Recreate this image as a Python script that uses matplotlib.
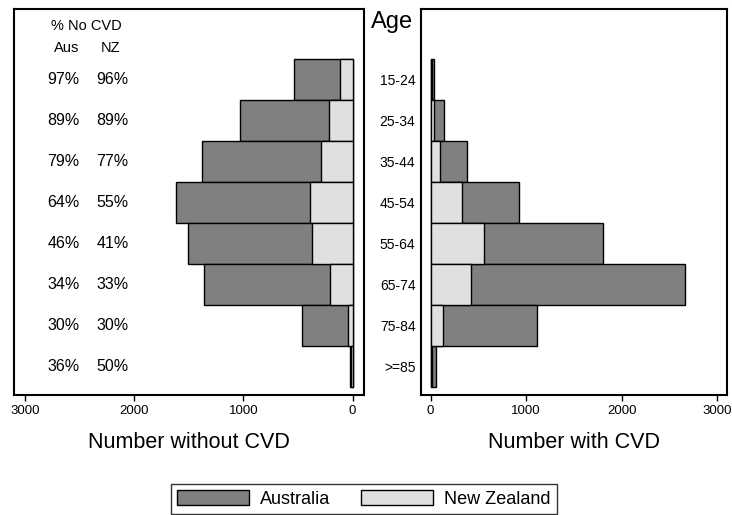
import matplotlib
matplotlib.use("Agg")
import matplotlib.pyplot as plt
from matplotlib.patches import Patch
import matplotlib.transforms as mtransforms

plt.rcParams['font.family'] = ['Liberation Sans', 'DejaVu Sans']

ages = ["15-24", "25-34", "35-44", "45-54", "55-64", "65-74", "75-84", ">=85"]
aus_without = [537, 1027, 1375, 1619, 1503, 1360, 464, 25]
nz_without = [116, 217, 290, 391, 375, 208, 39, 10]
aus_with = [35, 136, 383, 929, 1799, 2659, 1110, 52]
nz_with = [10, 35, 101, 331, 564, 428, 132, 18]
pct_aus = ["97%", "89%", "79%", "64%", "46%", "34%", "30%", "36%"]
pct_nz = ["96%", "89%", "77%", "55%", "41%", "33%", "30%", "50%"]
ticks = [0, 1000, 2000, 3000]

DARK = "#808080"
LIGHT = "#e0e0e0"
W, H = 732, 515

fig = plt.figure(figsize=(W / 100, H / 100), dpi=100)

def px_axes(x0, x1, ytop, ybot):
    return fig.add_axes([x0 / W, 1 - ybot / H, (x1 - x0) / W, (ybot - ytop) / H])

axL = px_axes(14, 363.5, 9, 395)
axR = px_axes(421, 727, 9, 395)

ypos = list(range(len(ages)))
for ax, aus, nz in [(axL, aus_without, nz_without), (axR, aus_with, nz_with)]:
    ax.barh(ypos, aus, height=1.0, color=DARK, edgecolor="black", linewidth=1.0)
    ax.barh(ypos, nz, height=1.0, color=LIGHT, edgecolor="black", linewidth=1.0)
    ax.set_ylim(7.70, -1.72)
    ax.set_xticks(ticks)
    ax.set_xticklabels([str(t) for t in ticks], fontsize=9.5)
    ax.tick_params(axis="x", direction="out", length=4, width=1.0, pad=3)
    for s in ax.spines.values():
        s.set_linewidth(1.5)

axL.set_xlim(3100, -100)
axL.set_yticks([])
axR.set_xlim(-100, 3100)
axR.set_yticks(ypos)
axR.set_yticklabels(ages, fontsize=10)
axR.tick_params(axis="y", length=0, pad=4)

trans = mtransforms.blended_transform_factory(axL.transAxes, axL.transData)
for i in ypos:
    axL.text(0.141, i, pct_aus[i], transform=trans, ha="center", va="center", fontsize=11.5)
    axL.text(0.282, i, pct_nz[i], transform=trans, ha="center", va="center", fontsize=11.5)
axL.text(0.206, -1.31, "% No CVD", transform=trans, ha="center", va="center", fontsize=10.5)
axL.text(0.151, -0.77, "Aus", transform=trans, ha="center", va="center", fontsize=10.5)
axL.text(0.277, -0.77, "NZ", transform=trans, ha="center", va="center", fontsize=10.5)

fig.text(392 / W, 1 - 22 / H, "Age", ha="center", va="center", fontsize=17)
fig.text(189 / W, 1 - 443 / H, "Number without CVD", ha="center", va="center", fontsize=15.5)
fig.text(574 / W, 1 - 443 / H, "Number with CVD", ha="center", va="center", fontsize=15.5)

handles = [Patch(facecolor=DARK, edgecolor="black", linewidth=1.0, label="Australia"),
           Patch(facecolor=LIGHT, edgecolor="black", linewidth=1.0, label="New Zealand")]
leg = fig.legend(handles=handles, loc="upper center", bbox_to_anchor=(364 / W, 1 - 484 / H),
                 ncol=2, fontsize=13, frameon=True, fancybox=False, handlelength=4.0,
                 handleheight=0.9, handletextpad=0.6, columnspacing=1.7, borderpad=0.35,
                 borderaxespad=0)
leg.get_frame().set_edgecolor("black")
leg.get_frame().set_linewidth(1.0)

fig.savefig("out.png", dpi=100)
